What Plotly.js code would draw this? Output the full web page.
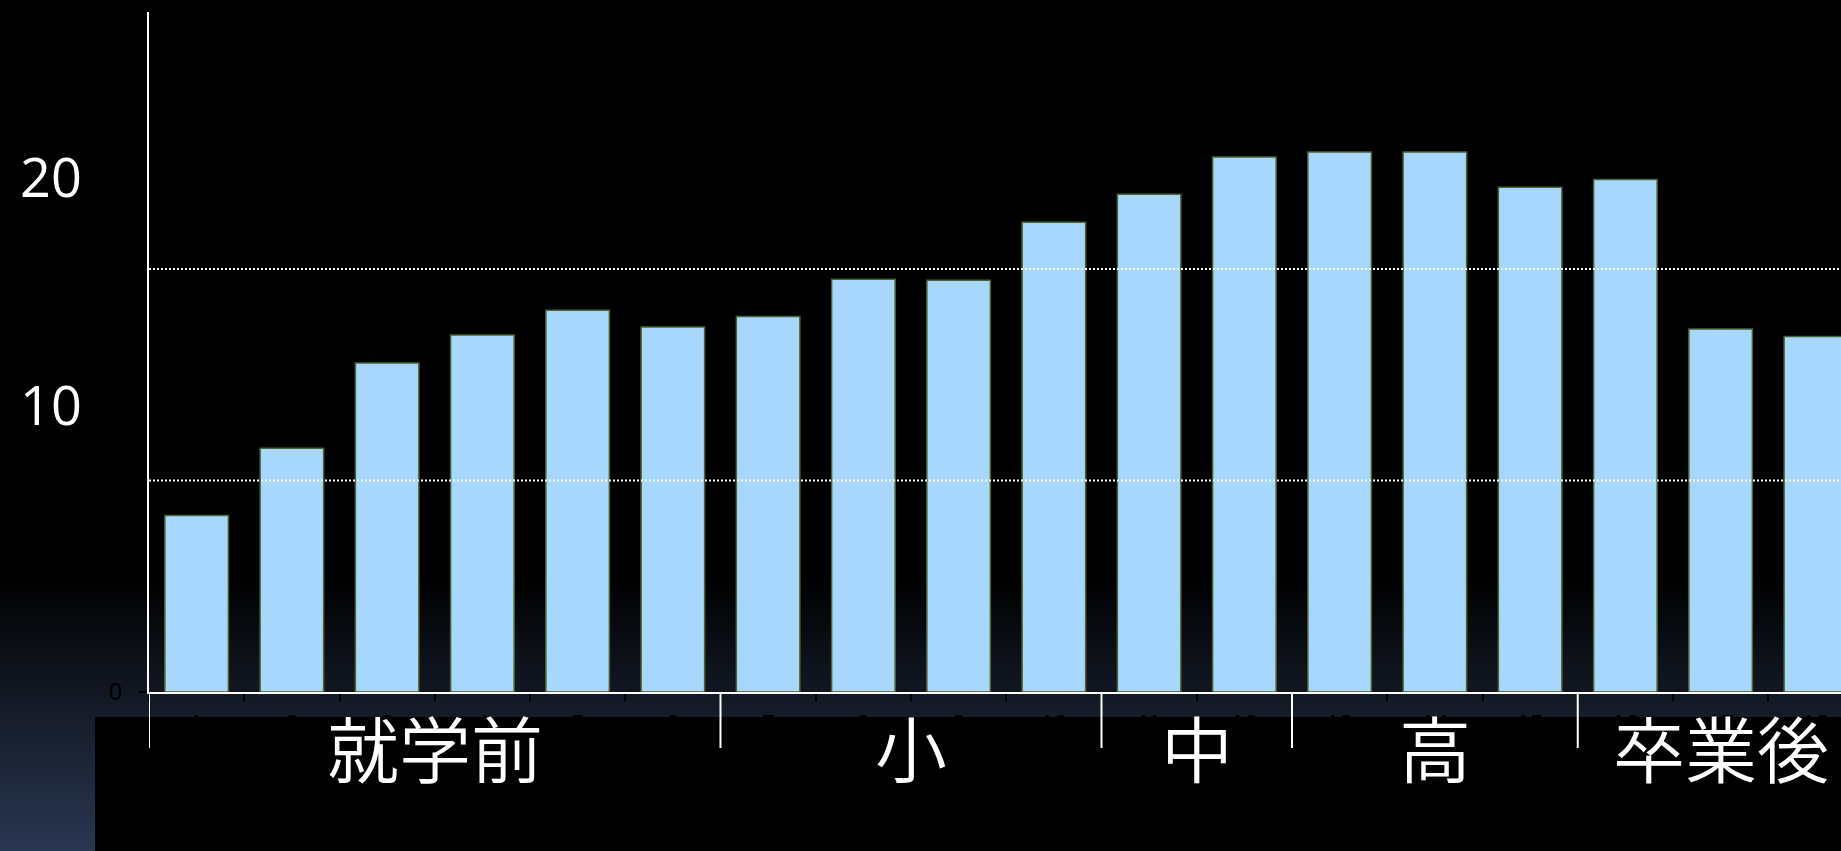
<!DOCTYPE html>
<html>
<head>
<meta charset="utf-8">
<script src="https://cdn.plot.ly/plotly-3.0.1.min.js"></script>
<style>
  html, body { margin: 0; padding: 0; width: 1841px; height: 851px; overflow: hidden; }
  body { background: linear-gradient(to bottom, #000000 0px, #000000 575px, #2a3752 851px); }
  #chart { width: 1841px; height: 851px; }
</style>
</head>
<body>
<div id="chart"></div>
<script>
// ---- data ----
const categories = ['1','2','3','4','5','6','7','8','9','10','11','12','13','14','15','16','17','18'];
const values = [6.68, 9.22, 12.44, 13.50, 14.44, 13.81, 14.20, 15.61, 15.57, 17.77, 18.83, 20.24, 20.43, 20.43, 19.09, 19.39, 13.73, 13.45];
const groupLabels = ['就学前', '小', '中', '高', '卒業後'];
const groupSizes = [6, 4, 2, 3, 3];
const yTickVals = [0, 8, 16];
const gridVals = [8, 16];
const sideLabels = ['20', '10'];

// ---- layout geometry ----
const W = 1841, H = 851;
const mL = 149, mT = 12, mB = 159, mR = 0;
const plotW = W - mL - mR, plotH = H - mT - mB;
const catPx = 95.25;
const yTop = 8 * plotH / 211.5;
const pxToPaperY = py => (H - mB - py) / plotH;
const pxToPaperX = px => (px - mL) / plotW;

// group boundaries / centers (category index space)
const boundaries = [];
const centers = [];
let start = 0;
groupSizes.forEach(n => {
  boundaries.push(start - 0.5);
  centers.push(start + (n - 1) / 2);
  start += n;
});

const shapes = [];
// dotted gridlines drawn above the bars
gridVals.forEach(v => shapes.push({
  type: 'line', layer: 'above', xref: 'paper', yref: 'y',
  x0: 0, x1: 1, y0: v, y1: v,
  line: { color: '#ffffff', width: 2, dash: '2px,2px' }
}));
// black band covering lower part of the tick labels
shapes.push({
  type: 'rect', layer: 'above', xref: 'paper', yref: 'paper',
  x0: pxToPaperX(95), x1: 1.2, y0: pxToPaperY(H + 5), y1: pxToPaperY(717),
  fillcolor: '#000000', line: { width: 0 }
});
// group separators
boundaries.forEach(b => shapes.push({
  type: 'line', layer: 'above', xref: 'x', yref: 'paper',
  x0: b, x1: b, y0: 0, y1: pxToPaperY(748),
  line: { color: '#ffffff', width: 2 }
}));

const annotations = [];
groupLabels.forEach((t, i) => annotations.push({
  xref: 'x', yref: 'paper', x: centers[i], y: pxToPaperY(745),
  xanchor: 'center', yanchor: 'middle', showarrow: false, text: t,
  font: { family: '"Noto Sans CJK JP", sans-serif', size: 72, color: '#ffffff', weight: 350 }
}));
const sideY = [176, 404];
sideLabels.forEach((t, i) => annotations.push({
  xref: 'paper', yref: 'paper', x: pxToPaperX(51), y: pxToPaperY(sideY[i]),
  xanchor: 'center', yanchor: 'middle', showarrow: false, text: t,
  font: { family: '"Open Sans", sans-serif', size: 54, color: '#ffffff' }
}));

const trace = {
  type: 'bar', x: categories, y: values,
  marker: { color: '#a7d7fd', line: { color: '#4f6228', width: 1.5 } },
  hoverinfo: 'skip'
};

const layout = {
  width: W, height: H,
  margin: { l: mL, r: mR, t: mT, b: mB, pad: 0 },
  paper_bgcolor: 'rgba(0,0,0,0)',
  plot_bgcolor: 'rgba(0,0,0,0)',
  bargap: 0.333,
  showlegend: false,
  xaxis: {
    type: 'category', range: [-0.5, -0.5 + plotW / catPx],
    showgrid: false, zeroline: false,
    showline: true, linecolor: '#ffffff', linewidth: 2,
    ticks: 'outside', tickson: 'boundaries', ticklen: 8, tickwidth: 2, tickcolor: '#000000',
    ticklabelstandoff: 9,
    tickfont: { family: '"Liberation Sans", Arial, sans-serif', size: 24, color: '#000000' },
    fixedrange: true
  },
  yaxis: {
    range: [0, yTop],
    tickmode: 'array', tickvals: yTickVals,
    showgrid: false, zeroline: false,
    showline: true, linecolor: '#ffffff', linewidth: 2,
    ticks: 'outside', ticklen: 8, tickwidth: 2, tickcolor: '#000000',
    ticklabelstandoff: 12,
    tickfont: { family: '"Liberation Sans", Arial, sans-serif', size: 24, color: '#000000' },
    fixedrange: true
  },
  shapes: shapes,
  annotations: annotations
};

Plotly.newPlot('chart', [trace], layout, { displayModeBar: false, staticPlot: true });
</script>
</body>
</html>
